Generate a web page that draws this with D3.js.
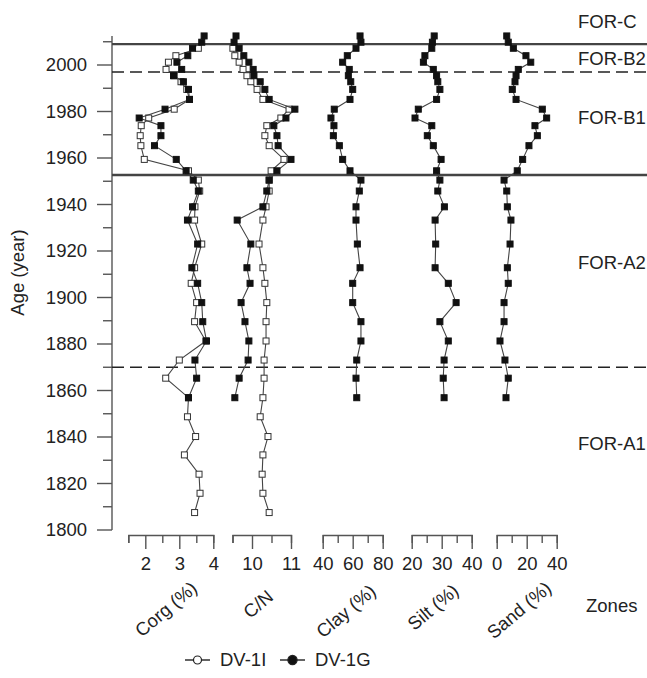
<!DOCTYPE html>
<html>
<head>
<meta charset="utf-8">
<script src="https://cdn.jsdelivr.net/npm/d3@7/dist/d3.min.js"></script>
<style>
  html, body { margin: 0; padding: 0; background: #fff; }
  svg { display: block; font-family: "Liberation Sans", Arial, Helvetica, sans-serif; }
</style>
</head>
<body>
<svg id="chart" width="647" height="678"></svg>
<script>
// Sample ages (years) of the DV-1G core
const yearsG = [2012.5, 2009.8, 2007.2, 2004.0, 2001.2, 1998.1, 1995.4, 1992.8, 1989.5, 1985.2,
  1981.0, 1977.2, 1973.9, 1969.6, 1965.3, 1959.4, 1954.5, 1950.5, 1945.8, 1939.0,
  1933.3, 1923.0, 1912.8, 1906.1, 1897.8, 1889.6, 1881.3, 1873.1, 1865.3, 1856.9];
// Sample ages (years) of the DV-1I core
const yearsI = [2007.2, 2004.0, 2001.2, 1998.1, 1995.4, 1992.8, 1989.5, 1985.2, 1981.0, 1977.2,
  1973.9, 1969.6, 1965.3, 1959.4, 1954.5, 1950.5, 1945.8, 1939.0, 1933.3, 1923.0,
  1912.8, 1906.1, 1897.8, 1889.6, 1881.3, 1873.1, 1865.3, 1856.9, 1848.7, 1840.2,
  1832.3, 1824.0, 1815.8, 1807.5];

// DV-1G values
const corgG = [3.73, 3.66, 3.39, 3.25, 2.93, 3.07, 2.83, 3.12, 3.27, 3.30,
  2.58, 1.82, 2.46, 2.46, 2.27, 2.91, 3.20, 3.41, 3.56, 3.39,
  3.24, 3.54, 3.37, 3.54, 3.66, 3.69, 3.80, 3.46, 3.51, 3.27];
const cnG = [9.59, 9.54, 9.67, 9.79, 9.92, 10.03, 10.05, 10.21, 10.33, 10.44,
  11.10, 10.87, 10.56, 10.64, 10.67, 11.00, 10.64, 10.44, 10.38, 10.28,
  9.62, 9.97, 9.87, 9.95, 9.72, 9.82, 9.92, 9.90, 9.67, 9.56];
const clayG = [64.9, 65.5, 62.2, 56.4, 53.3, 57.7, 57.1, 58.7, 60.0, 58.2,
  47.7, 45.5, 47.5, 47.1, 51.1, 53.3, 58.2, 65.5, 64.4, 62.2,
  62.2, 63.1, 64.9, 60.0, 60.0, 65.5, 65.5, 62.7, 62.2, 62.7];
const siltG = [27.5, 26.9, 26.7, 24.4, 23.9, 27.2, 28.3, 28.7, 29.4, 28.3,
  22.2, 21.1, 26.7, 25.2, 27.2, 29.8, 28.3, 29.4, 28.7, 30.9,
  27.8, 28.0, 27.8, 32.2, 34.8, 29.4, 32.2, 30.8, 30.5, 30.8];
const sandG = [6.7, 7.7, 11.1, 19.5, 22.7, 14.4, 12.9, 12.2, 10.4, 12.9,
  30.4, 33.3, 25.5, 27.1, 21.5, 17.3, 13.7, 4.9, 6.7, 7.1,
  9.5, 8.9, 7.1, 7.7, 4.9, 4.9, 2.2, 5.5, 7.7, 6.2];

// DV-1I values
const corgI = [3.56, 2.90, 2.68, 2.61, 2.85, 3.05, 3.22, 3.30, 2.85, 2.10,
  1.88, 1.85, 1.87, 1.97, 3.27, 3.56, 3.60, 3.46, 3.45, 3.66,
  3.45, 3.35, 3.51, 3.45, 3.78, 3.00, 2.60, 3.27, 3.24, 3.48,
  3.15, 3.58, 3.61, 3.45];
const cnI = [9.51, 9.56, 9.67, 9.77, 9.87, 9.97, 10.13, 10.28, 10.95, 10.74,
  10.38, 10.33, 10.44, 10.82, 10.49, 10.44, 10.44, 10.36, 10.28, 10.18,
  10.28, 10.33, 10.38, 10.36, 10.36, 10.31, 10.31, 10.28, 10.21, 10.41,
  10.28, 10.26, 10.28, 10.44];

// Zone boundaries and names
const zoneBounds = [2009, 1997, 1952.7, 1870];
const zoneDashed = [false, true, false, true];
const zoneNames = ["FOR-C", "FOR-B2", "FOR-B1", "FOR-A2", "FOR-A1"];
const zoneLabelYears = [2018.5, 2003, 1977.5, 1915, 1837];

// Y-axis ticks
const yTicks = d3.range(1800, 2011, 10);

// Panels: variable name, ticks, labelled ticks
const panelNames = ["Corg (%)", "C/N", "Clay (%)", "Silt (%)", "Sand (%)"];
const panelTicks = [
  [1.5, 2, 2.5, 3, 3.5, 4],
  [9.5, 10, 10.5, 11],
  [40, 50, 60, 70, 80],
  [20, 25, 30, 35, 40],
  [0, 10, 20, 30, 40]
];
const panelLabels = [[2, 3, 4], [10, 11], [40, 60, 80], [20, 30, 40], [0, 20, 40]];
const seriesNames = ["DV-1I", "DV-1G"];

// ---- layout ----
const svg = d3.select("#chart");
const FONT = 18.5;
const TEXT = "#222";
const AX = "#555";
const axisX = 112;
const axisBase = 535;

const y = d3.scaleLinear().domain([1800, 2000]).range([530, 65]);

const panelRanges = [[128.3, 213.3], [232.5, 291], [322.7, 382.7], [411.7, 471.7], [496.7, 556.7]];
const xScales = panelTicks.map((t, i) =>
  d3.scaleLinear().domain([t[0], t[t.length - 1]]).range(panelRanges[i]));
const titlePos = [[166, 609], [258, 604], [346, 611], [433, 607], [519, 610]];

// ---- y axis ----
const yAxisG = svg.append("g").attr("transform", `translate(${axisX},0)`);
yAxisG.append("line")
  .attr("x1", 0).attr("x2", 0)
  .attr("y1", y(2012.5)).attr("y2", y(1800))
  .attr("stroke", AX).attr("stroke-width", 1.4);
yAxisG.selectAll("line.tick").data(yTicks).join("line")
  .attr("class", "tick")
  .attr("x1", d => d % 20 === 0 ? -15 : -9).attr("x2", 0)
  .attr("y1", d => y(d)).attr("y2", d => y(d))
  .attr("stroke", AX).attr("stroke-width", 1.4);
yAxisG.selectAll("text").data(yTicks.filter(d => d % 20 === 0)).join("text")
  .attr("x", -25).attr("y", d => y(d))
  .attr("dy", "0.35em")
  .attr("text-anchor", "end")
  .attr("font-size", FONT).attr("fill", TEXT)
  .text(d => d);
svg.append("text")
  .attr("transform", `translate(24,${y(1900) - 25}) rotate(-90)`)
  .attr("text-anchor", "middle")
  .attr("font-size", FONT).attr("fill", TEXT)
  .text("Age (year)");

// ---- zone boundaries ----
svg.selectAll("line.zone").data(zoneBounds).join("line")
  .attr("class", "zone")
  .attr("x1", axisX).attr("x2", 647)
  .attr("y1", d => y(d)).attr("y2", d => y(d))
  .attr("stroke", (d, i) => zoneDashed[i] ? "#222" : "#444")
  .attr("stroke-width", (d, i) => zoneDashed[i] ? 1.4 : 2.4)
  .attr("stroke-dasharray", (d, i) => zoneDashed[i] ? "12,6" : null);

svg.selectAll("text.zoneName").data(zoneNames).join("text")
  .attr("class", "zoneName")
  .attr("x", 578).attr("y", (d, i) => y(zoneLabelYears[i]))
  .attr("dy", "0.35em")
  .attr("font-size", FONT).attr("fill", TEXT)
  .text(d => d);
svg.append("text")
  .attr("x", 586).attr("y", 606).attr("dy", "0.35em")
  .attr("font-size", FONT).attr("fill", TEXT)
  .text("Zones");

// ---- bottom axes ----
xScales.forEach((sc, i) => {
  const g = svg.append("g").attr("transform", `translate(0,${axisBase})`);
  const ax = d3.axisBottom(sc)
    .tickValues(panelTicks[i])
    .tickSizeOuter(0)
    .tickSize(8)
    .tickFormat(d => panelLabels[i].includes(d) ? d : "");
  g.call(ax);
  g.select(".domain").attr("stroke", AX).attr("stroke-width", 1.4);
  g.selectAll(".tick line")
    .attr("stroke", AX).attr("stroke-width", 1.4)
    .attr("y2", d => panelLabels[i].includes(d) ? 14 : 8);
  g.selectAll(".tick text")
    .attr("y", 22).attr("dy", "0.71em")
    .attr("font-size", FONT).attr("fill", TEXT)
    .attr("font-family", "Liberation Sans, Arial, sans-serif");
  svg.append("text")
    .attr("transform", `translate(${titlePos[i][0]},${titlePos[i][1]}) rotate(-40)`)
    .attr("text-anchor", "middle")
    .attr("dy", "0.35em")
    .attr("font-size", FONT).attr("fill", TEXT)
    .text(panelNames[i]);
});

// ---- profiles ----
const SQ = 6;
function drawProfile(sc, years, values, open) {
  const pts = years.map((yr, k) => [sc(values[k]), y(yr)]);
  svg.append("path")
    .attr("d", d3.line()(pts))
    .attr("fill", "none")
    .attr("stroke", "#444").attr("stroke-width", 1.1);
  svg.append("g").selectAll("rect").data(pts).join("rect")
    .attr("x", d => d[0] - SQ / 2).attr("y", d => d[1] - SQ / 2)
    .attr("width", SQ).attr("height", SQ)
    .attr("fill", open ? "#fff" : "#111")
    .attr("stroke", open ? "#333" : "#111")
    .attr("stroke-width", 1);
}

// DV-1I (open) under DV-1G (filled)
drawProfile(xScales[0], yearsI, corgI, true);
drawProfile(xScales[1], yearsI, cnI, true);
drawProfile(xScales[0], yearsG, corgG, false);
drawProfile(xScales[1], yearsG, cnG, false);
drawProfile(xScales[2], yearsG, clayG, false);
drawProfile(xScales[3], yearsG, siltG, false);
drawProfile(xScales[4], yearsG, sandG, false);

// ---- legend ----
const legY = 660;
const legItems = [{ x: 185, open: true }, { x: 280, open: false }];
legItems.forEach((it, i) => {
  svg.append("line")
    .attr("x1", it.x).attr("x2", it.x + 25)
    .attr("y1", legY).attr("y2", legY)
    .attr("stroke", "#222").attr("stroke-width", 1.4);
  svg.append("circle")
    .attr("cx", it.x + 12.5).attr("cy", legY)
    .attr("r", it.open ? 4 : 4.6)
    .attr("fill", it.open ? "#fff" : "#111")
    .attr("stroke", "#222").attr("stroke-width", 1.2);
  svg.append("text")
    .attr("x", it.x + 35).attr("y", legY).attr("dy", "0.35em")
    .attr("font-size", FONT).attr("fill", TEXT)
    .text(seriesNames[i]);
});
</script>
</body>
</html>
